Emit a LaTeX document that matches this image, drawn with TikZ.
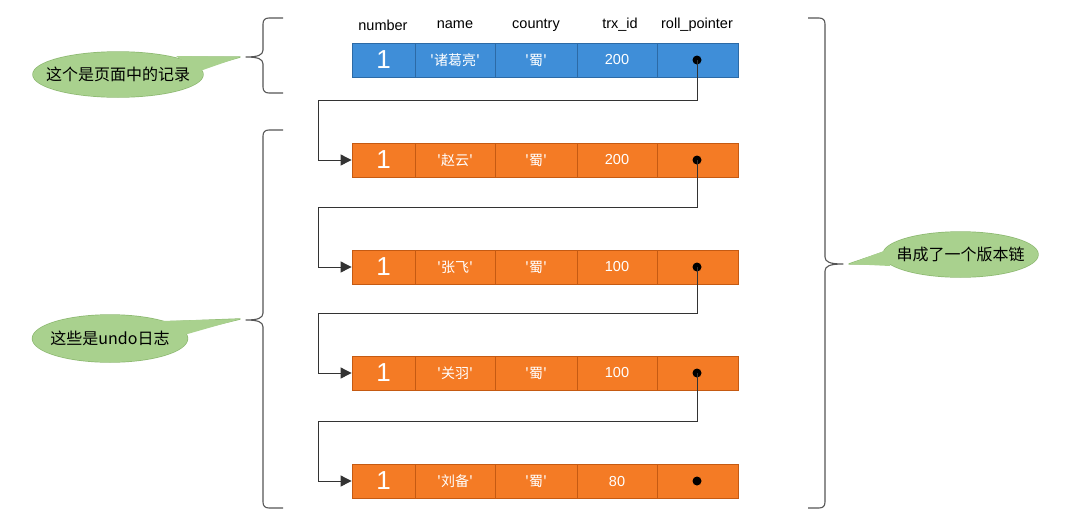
\documentclass[tikz,border=0pt]{standalone}
\usepackage{fontspec}
\setmainfont{Liberation Sans}
\newfontfamily\cjk{Noto Sans CJK SC}
\usetikzlibrary{arrows.meta,shapes.geometric}
\definecolor{blueF}{HTML}{3F8ED8}
\definecolor{blueD}{HTML}{2C6AA6}
\definecolor{orangeF}{HTML}{F47B25}
\definecolor{orangeD}{HTML}{C55A12}
\definecolor{greenF}{HTML}{A9D18E}
\definecolor{greenD}{HTML}{8CB870}
\definecolor{braceC}{HTML}{555555}
\begin{document}
\begin{tikzpicture}[x=1pt,y=-1pt,
  cell/.style={draw, line width=0.8pt, inner sep=0pt, minimum height=34pt, text=white, font=\fontsize{14.5}{16}\selectfont},
  bluecell/.style={cell, fill=blueF, draw=blueD},
  orangecell/.style={cell, fill=orangeF, draw=orangeD},
  hdr/.style={font=\fontsize{14.5}{16}\selectfont, inner sep=0pt},
  dotnode/.style={circle, fill=black, inner sep=0pt, minimum size=9pt},
  link/.style={draw=black!80, line width=0.9pt},
  bracestyle/.style={draw=braceC, line width=1.1pt, line join=round},
  callout/.style={ellipse, fill=greenF, inner sep=0pt},
  calltext/.style={font=\cjk\fontsize{16}{18}\selectfont}
]
\useasboundingbox (0,0) rectangle (1076,512);
\fill[white] (0,0) rectangle (1076,512);

% headers
\node[hdr] (h1) at (383,25) {number};
\node[hdr] (h2) at (455,25) {name};
\node[hdr] (h3) at (536,25) {country};
\node[hdr] (h4) at (620,25) {trx\_id};
\node[hdr] (h5) at (697,25) {roll\_pointer};

% rows
\foreach \r/\cy/\st/\nm/\tid in {0/60/bluecell/诸葛亮/200, 1/160/orangecell/赵云/200, 2/267/orangecell/张飞/100, 3/373/orangecell/关羽/100, 4/481/orangecell/刘备/80}{
  \node[\st, minimum width=63pt, font=\fontsize{26}{28}\selectfont] (r\r-1) at (383.5,\cy) {1};
  \node[\st, minimum width=80pt, font=\cjk\fontsize{14}{16}\selectfont] (r\r-2) at (455,\cy) {'\nm'};
  \node[\st, minimum width=82pt, font=\cjk\fontsize{14}{16}\selectfont] (r\r-3) at (536,\cy) {'蜀'};
  \node[\st, minimum width=80pt] (r\r-4) at (617,\cy) {\tid};
  \node[\st, minimum width=81pt] (r\r-5) at (697.5,\cy) {};
  \node[dotnode] (p\r) at (697,\cy) {};
}

% pointer chain
\coordinate (k0) at (318,100);
\coordinate (k1) at (318,207);
\coordinate (k2) at (318,313);
\coordinate (k3) at (318,421);
\draw[link, -{Triangle[length=11pt,width=11pt]}] (p0.center) |- (k0) |- (r1-1.west);
\draw[link, -{Triangle[length=11pt,width=11pt]}] (p1.center) |- (k1) |- (r2-1.west);
\draw[link, -{Triangle[length=11pt,width=11pt]}] (p2.center) |- (k2) |- (r3-1.west);
\draw[link, -{Triangle[length=11pt,width=11pt]}] (p3.center) |- (k3) |- (r4-1.west);

% braces
\coordinate (b1) at (246,57);
\coordinate (b2) at (246,320);
\coordinate (b3) at (843,264);
\draw[bracestyle] (283,18) -- (269,18) .. controls (265,18) and (263,20) .. (263,24) -- (263,50)
  .. controls (263,55) and (258,57) .. (b1) .. controls (258,57) and (263,59) .. (263,64) -- (263,87)
  .. controls (263,91) and (265,93) .. (269,93) -- (283,93);
\draw[bracestyle] (283,130) -- (269,130) .. controls (265,130) and (263,132) .. (263,136) -- (263,313)
  .. controls (263,318) and (258,320) .. (b2) .. controls (258,320) and (263,322) .. (263,327) -- (263,502)
  .. controls (263,506) and (265,508) .. (269,508) -- (283,508);
\draw[bracestyle] (808,18) -- (819,18) .. controls (823,18) and (825,20) .. (825,24) -- (825,257)
  .. controls (825,262) and (830,264) .. (b3) .. controls (830,264) and (825,266) .. (825,271) -- (825,502)
  .. controls (825,506) and (823,508) .. (819,508) -- (808,508);

% callouts
\coordinate (t1) at (240,57);
\coordinate (t2) at (240,319);
\coordinate (t3) at (849,264);
\node[callout, minimum width=170pt, minimum height=45pt] (c1) at (118,74.5) {};
\node[callout, minimum width=155pt, minimum height=47pt] (c2) at (110,338.5) {};
\node[callout, minimum width=155pt, minimum height=45pt] (c3) at (960.5,254.5) {};
% outlines drawn first, fills on top
\draw[greenD, line width=1.4pt] (c1.center) ellipse [x radius=85, y radius=22.5];
\draw[greenD, line width=1.4pt, line join=round] (178,57) -- (t1) -- (198,69);
\draw[greenD, line width=1.4pt] (c2.center) ellipse [x radius=77.5, y radius=23.5];
\draw[greenD, line width=1.4pt, line join=round] (162,322) -- (t2) -- (182,333);
\draw[greenD, line width=1.4pt] (c3.center) ellipse [x radius=77.5, y radius=22.5];
\draw[greenD, line width=1.4pt, line join=round] (890,250) -- (t3) -- (888,264);
\fill[greenF] (c1.center) ellipse [x radius=85, y radius=22.5];
\fill[greenF] (176,56) -- (t1) -- (200,71) -- cycle;
\fill[greenF] (c2.center) ellipse [x radius=77.5, y radius=23.5];
\fill[greenF] (160,321) -- (t2) -- (184,335) -- cycle;
\fill[greenF] (c3.center) ellipse [x radius=77.5, y radius=22.5];
\fill[greenF] (892,248) -- (t3) -- (890,266) -- cycle;
\node[calltext] (l1) at (c1.center) {这个是页面中的记录};
\node[calltext] (l2) at (c2.center) {这些是undo日志};
\node[calltext] (l3) at (c3.center) {串成了一个版本链};
\end{tikzpicture}
\end{document}
